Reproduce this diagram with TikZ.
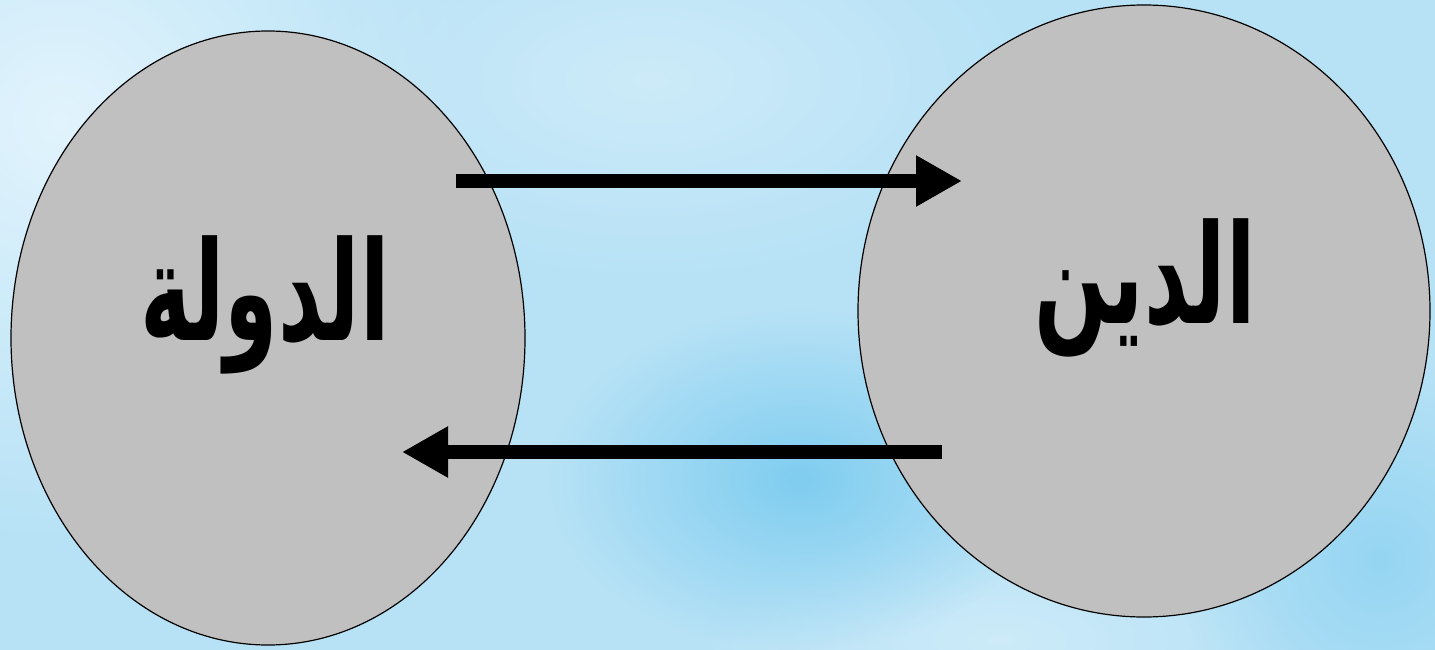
\documentclass[tikz,border=0pt]{standalone}
\usepackage{fontspec}
\usetikzlibrary{arrows.meta,fadings,shapes.geometric}
\TeXXeTstate=1
\newfontfamily\arabicfont[Script=Arabic]{DejaVu Sans}

\definecolor{bgbase}{HTML}{B7E2F6}
\definecolor{bglight}{HTML}{E2F4FD}
\definecolor{bgpale}{HTML}{CDEBF9}
\definecolor{bgdeep}{HTML}{7FCDF0}
\definecolor{discgray}{HTML}{C0C0C0}

\tikzfading[name=softglow, inner color=transparent!0, outer color=transparent!100]

\tikzset{
  disc/.style={ellipse, draw=black, line width=1.2pt, fill=discgray, inner sep=0pt},
  bigword/.style={font=\arabicfont\bfseries\fontsize{100}{110}\selectfont, text=black,
                  inner sep=0pt, xscale=0.86, yscale=1.38},
  flow/.style={line width=14pt, -{Triangle[length=46pt,width=48pt]}}
}

\begin{document}
\begin{tikzpicture}[x=1pt,y=-1pt]
\useasboundingbox (0,0) rectangle (1435,650);

% soft sky-blue backdrop
\fill[bgbase] (0,0) rectangle (1435,650);
\fill[bglight, path fading=softglow] (60,120) ellipse (420 and 420);
\fill[bgpale, path fading=softglow] (650,80) ellipse (380 and 200);
\fill[bgpale, path fading=softglow] (1000,640) ellipse (300 and 120);
\fill[bgdeep, path fading=softglow] (800,480) ellipse (250 and 170);
\fill[bgdeep, opacity=0.6, path fading=softglow] (1380,560) ellipse (200 and 200);

% the two bodies
\node[disc, minimum width=514pt, minimum height=614pt] (state) at (268,338) {};
\node[disc, minimum width=572pt, minimum height=612pt] (religion) at (1144,311) {};

\node[bigword] (stateword) at (265,305) {\beginR الدولة\endR};
\node[bigword] (religionword) at (1145,288) {\beginR الدين\endR};

% exchange between them
\coordinate (topfrom) at (456,181);
\coordinate (topto) at (962,181);
\coordinate (botfrom) at (942,452);
\coordinate (botto) at (402,452);
\draw[flow] (topfrom) -- (topto);
\draw[flow] (botfrom) -- (botto);
\end{tikzpicture}
\end{document}
